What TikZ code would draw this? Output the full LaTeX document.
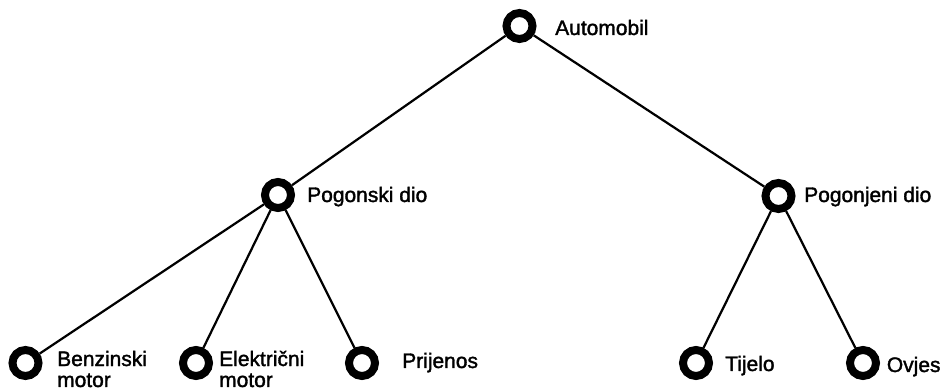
\documentclass[tikz,border=0pt]{standalone}
\usepackage{fontspec}
\setmainfont{Liberation Sans}[UprightFeatures={FakeBold=1.6}]
\usetikzlibrary{positioning}

\begin{document}
\begin{tikzpicture}[font=\fontsize{17.9pt}{17.9pt}\selectfont]
\tikzstyle{ringnode}=[circle,draw=black,line width=6.8pt,fill=white,minimum size=0.78cm,inner sep=0pt]
\tikzstyle{labeltext}=[anchor=base west,inner sep=0pt,align=left]
\tikzstyle{linkline}=[line width=1.9pt]
\useasboundingbox (0,0) rectangle (28.26,11.7);
\node[ringnode] (auto) at (15.585,10.92) {};
\node[ringnode] (pogonski) at (8.34,5.85) {};
\node[ringnode] (pogonjeni) at (23.355,5.82) {};
\node[ringnode] (benzin) at (0.765,0.81) {};
\node[ringnode] (elektro) at (5.88,0.81) {};
\node[ringnode] (prijenos) at (10.86,0.81) {};
\node[ringnode] (tijelo) at (20.88,0.81) {};
\node[ringnode] (ovjes) at (25.89,0.81) {};
\node[labeltext] (autoname) at (16.65,10.65) {Automobil};
\node[labeltext] (pogonskiname) at (9.21,5.64) {Pogonski dio};
\node[labeltext] (pogonjeniname) at (24.12,5.64) {Pogonjeni dio};
\node[labeltext] (benzinname) at (1.71,0.09) {Benzinski\\motor};
\node[labeltext] (elektroname) at (6.57,0.09) {Električni\\motor};
\node[labeltext] (prijenosname) at (12.06,0.66) {Prijenos};
\node[labeltext] (tijeloname) at (21.75,0.57) {Tijelo};
\node[labeltext] (ovjesname) at (26.6,0.54) {Ovjes};
\draw[linkline] (auto) -- (pogonski);
\draw[linkline] (auto) -- (pogonjeni);
\draw[linkline] (pogonski) -- (benzin);
\draw[linkline] (pogonski) -- (elektro);
\draw[linkline] (pogonski) -- (prijenos);
\draw[linkline] (pogonjeni) -- (tijelo);
\draw[linkline] (pogonjeni) -- (ovjes);
\end{tikzpicture}
\end{document}
